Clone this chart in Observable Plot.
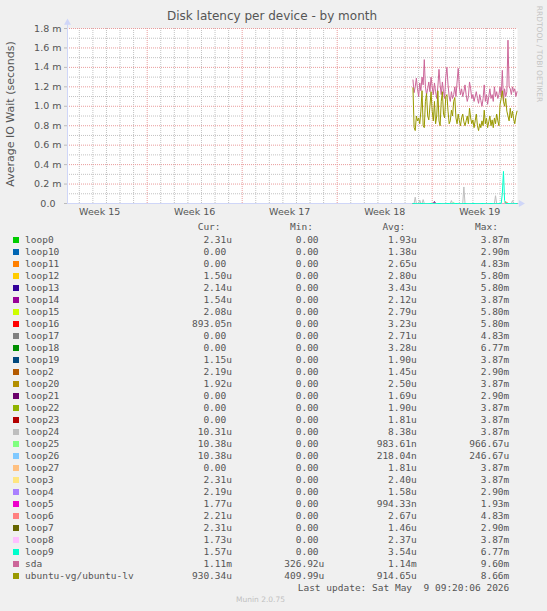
<!DOCTYPE html>
<html>
<head>
<meta charset="utf-8">
<script src="https://cdn.jsdelivr.net/npm/d3@7"></script>
<script src="https://cdn.jsdelivr.net/npm/@observablehq/plot@0.6"></script>
<style>
  html, body { margin: 0; padding: 0; }
  body { background: #F0F0F0; width: 547px; height: 611px; position: relative; overflow: hidden; }
  .abs { position: absolute; white-space: pre; }
  .mono { font-family: "DejaVu Sans Mono", monospace; font-size: 9.5px; line-height: 12px; color: #555; }
  .sw { position: absolute; width: 6px; height: 6px; }
</style>
</head>
<body>
<div id="chart" class="abs" style="left:0;top:0"></div>
<div class="abs" style="left:0;width:544px;top:9px;text-align:center;font-family:'DejaVu Sans';font-size:12px;color:#555">Disk latency per device - by month</div>
<div class="abs" style="left:10px;top:114px;transform:translate(-50%,-50%) rotate(-90deg);font-family:'DejaVu Sans';font-size:11px;color:#555">Average IO Wait (seconds)</div>
<div class="abs" style="left:538.5px;top:53.5px;transform:translate(-50%,-50%) rotate(90deg);font-family:'DejaVu Sans';font-size:7.5px;color:#c4c4c4">RRDTOOL / TOBI OETIKER</div>
<div id="legend"></div>
<script>
// ---- data ----
const weekNumbers = [15, 16, 17, 18, 19];
const weekLabels = ["Week 15", "Week 16", "Week 17", "Week 18", "Week 19"];
const yTicksMs = [0, 0.2, 0.4, 0.6, 0.8, 1.0, 1.2, 1.4, 1.6, 1.8];

// 2-hour samples from 2026-05-02 14:00, in milliseconds of wait
const sdaMs = [
  1.27, 1.14, 1.20, 1.29, 1.18, 1.10, 1.24, 1.16, 1.30, 1.22,
  1.48, 1.20, 1.12, 1.18, 1.25, 1.15, 1.30, 1.20, 1.12, 1.24,
  1.15, 1.08, 1.20, 1.38, 1.22, 1.12, 1.25, 1.15, 1.08, 1.30,
  1.40, 1.22, 1.10, 1.05, 1.15, 1.08, 1.12, 1.20, 1.10, 1.25,
  1.39, 1.20, 1.12, 1.18, 1.10, 1.15, 1.22, 1.12, 1.05, 1.10,
  1.25, 1.18, 1.08, 1.12, 1.05, 1.10, 1.15, 1.08, 1.03, 1.12,
  1.06, 1.00, 1.08, 1.22, 1.05, 1.12, 1.02, 1.10, 1.18, 1.08,
  1.12, 1.05, 1.20, 1.10, 1.15, 1.08, 1.12, 1.20, 1.10, 1.37,
  1.05, 1.18, 1.10, 1.15, 1.68, 1.20, 1.18, 1.12, 1.20, 1.15,
  1.18, 1.10, 1.15
];
const lvMs = [
  1.19, 0.78, 0.75, 0.90, 0.85, 0.88, 0.82, 0.95, 1.16, 0.80,
  0.78, 1.05, 1.13, 0.90, 0.86, 1.00, 1.15, 0.95, 0.85, 1.05,
  0.82, 0.90, 1.16, 0.85, 0.80, 1.05, 1.15, 0.92, 0.88, 1.10,
  1.12, 0.95, 0.82, 0.85, 0.96, 0.90, 1.05, 1.09, 0.88, 0.82,
  0.92, 0.85, 0.80, 0.88, 0.92, 0.84, 0.80, 0.85, 0.90, 0.82,
  0.98, 0.88, 0.82, 0.86, 0.78, 0.85, 0.92, 0.80, 0.75, 0.82,
  0.78, 0.85, 0.80, 0.96, 0.82, 0.88, 0.78, 0.84, 0.90, 0.80,
  0.86, 0.78, 0.88, 0.82, 0.92, 0.85, 0.80, 1.02, 1.08, 1.16,
  1.05, 1.00, 1.08, 0.95, 0.90, 0.85, 0.98, 0.88, 0.95, 0.87,
  0.82, 0.90, 0.95
];
// small non-zero samples of the loop devices (all other samples are 0)
const spikeDevice = ["loop24","loop24","loop24","loop24","loop24","loop24","loop24","loop9","loop9","loop9","loop21","loop11","loop25","loop6"];
const spikeIndex  = [2, 6, 9, 34, 45, 73, 88, 79, 80, 81, 19, 82, 36, 83];
const spikeMs     = [0.065, 0.035, 0.04, 0.03, 0.17, 0.08, 0.03, 0.10, 0.33, 0.03, 0.02, 0.02, 0.01, 0.015];

// legend
const names = ["loop0","loop10","loop11","loop12","loop13","loop14","loop15","loop16","loop17","loop18","loop19","loop2","loop20","loop21","loop22","loop23","loop24","loop25","loop26","loop27","loop3","loop4","loop5","loop6","loop7","loop8","loop9","sda","ubuntu-vg/ubuntu-lv"];
const colors = ["#00CC00","#0066B3","#FF8000","#FFCC00","#330099","#990099","#CCFF00","#FF0000","#808080","#008F00","#00487D","#B35A00","#B38F00","#6B006B","#8FB300","#B30000","#BEBEBE","#80FF80","#80C9FF","#FFC080","#FFE680","#AA80FF","#EE00CC","#FF8080","#666600","#FFBFFF","#00FFCC","#CC6699","#999900"];
const curVals = ["2.31u","0.00","0.00","1.50u","2.14u","1.54u","2.08u","893.05n","0.00","0.00","1.15u","2.19u","1.92u","0.00","0.00","0.00","10.31u","10.38u","10.38u","0.00","2.31u","2.19u","1.77u","2.21u","2.31u","1.73u","1.57u","1.11m","930.34u"];
const minVals = ["0.00","0.00","0.00","0.00","0.00","0.00","0.00","0.00","0.00","0.00","0.00","0.00","0.00","0.00","0.00","0.00","0.00","0.00","0.00","0.00","0.00","0.00","0.00","0.00","0.00","0.00","0.00","326.92u","409.99u"];
const avgVals = ["1.93u","1.38u","2.65u","2.80u","3.43u","2.12u","2.79u","3.23u","2.71u","3.28u","1.90u","1.45u","2.50u","1.69u","1.90u","1.81u","8.38u","983.61n","218.04n","1.81u","2.40u","1.58u","994.33n","2.67u","1.46u","2.37u","3.54u","1.14m","914.65u"];
const maxVals = ["3.87m","2.90m","4.83m","5.80m","5.80m","3.87m","5.80m","5.80m","4.83m","6.77m","3.87m","2.90m","3.87m","2.90m","3.87m","3.87m","3.87m","966.67u","246.67u","3.87m","3.87m","2.90m","1.93m","4.83m","2.90m","3.87m","6.77m","9.60m","8.66m"];
const lastUpdate = "Last update: Sat May  9 09:20:06 2026";
const munin = "Munin 2.0.75";

// ---- build ----
const HOUR = 3600000, DAY = 24 * HOUR;
const t0 = Date.UTC(2026, 4, 2, 14, 0);
const times = sdaMs.map((_, i) => new Date(t0 + i * 2 * HOUR));
const xStart = new Date(Date.UTC(2026, 3, 7, 3, 7));
const xEnd = new Date(Date.UTC(2026, 4, 10, 6, 50));
// Thursday noon of ISO week w of 2026 (Jan 1 2026 is a Thursday)
const weekMid = weekNumbers.map(w => new Date(Date.UTC(2026, 0, 1, 12) + (w - 1) * 7 * DAY));
const days = d3.utcDay.range(d3.utcDay.ceil(xStart), xEnd);
const mondays = d3.utcMonday.range(xStart, xEnd);
const minorY = d3.range(1, 18, 2).map(k => k * 1e-4);
const majorY = yTicksMs.slice(1).map(v => v * 1e-3);

function seriesRows(name) {
  const vals = times.map(() => 0);
  spikeDevice.forEach((d, k) => { if (d === name) vals[spikeIndex[k]] = spikeMs[k]; });
  if (name === "sda") return times.map((t, i) => ({t, v: sdaMs[i] * 1e-3}));
  if (name === "ubuntu-vg/ubuntu-lv") return times.map((t, i) => ({t, v: lvMs[i] * 1e-3}));
  return times.map((t, i) => ({t, v: vals[i] * 1e-3}));
}

const gridGrey = "#c2c2c2", gridRed = "#e99c9c", axisCol = "#CFD6F8";
const marks = [
  Plot.frame({fill: "white", stroke: null}),
  Plot.ruleY(minorY, {stroke: gridGrey, strokeDasharray: "1,1"}),
  Plot.ruleX(days.filter(d => d.getUTCDay() !== 1), {stroke: gridGrey, strokeDasharray: "1,1"}),
  Plot.ruleY(majorY, {stroke: gridRed, strokeDasharray: "1,1"}),
  Plot.ruleX(mondays, {stroke: gridRed, strokeDasharray: "1,1"}),
  Plot.ruleX([xStart], {y1: 0, y2: 1.86e-3, stroke: axisCol}),
  Plot.ruleY([0], {x1: xStart, x2: new Date(+xEnd + 0.2 * DAY), stroke: axisCol}),
  Plot.dot([0], {x: () => xStart, y: () => 1.86e-3, symbol: "triangle", r: 2.6, fill: axisCol, stroke: null}),
  Plot.dot([0], {x: () => new Date(+xEnd + 0.25 * DAY), y: () => 0, symbol: "triangle", rotate: 90, r: 2.6, fill: axisCol, stroke: null})
];
names.forEach((n, i) => {
  marks.push(Plot.line(seriesRows(n), {x: "t", y: "v", stroke: colors[i], strokeWidth: 1}));
});
marks.push(
  Plot.axisY({ticks: yTicksMs.map(v => v * 1e-3), tickFormat: (v) => v === 0 ? "0.0\u00a0\u00a0" : (v * 1e3).toFixed(1) + " m",
    tickSize: 3, tickPadding: 3, label: null, stroke: "#bbb", fill: "#555"}),
  Plot.axisX({ticks: weekMid, tickFormat: (d, i) => weekLabels[i], tickSize: 0, tickPadding: 5, label: null, fill: "#555"})
);

const chart = Plot.plot({
  width: 547, height: 222,
  marginLeft: 67, marginRight: 30, marginTop: 28, marginBottom: 19,
  style: {background: "transparent", fontFamily: "DejaVu Sans", fontSize: "9.5px", color: "#555"},
  x: {type: "utc", domain: [xStart, xEnd]},
  y: {type: "linear", domain: [0, 1.8e-3]},
  marks
});
document.getElementById("chart").appendChild(chart);

// ---- legend ----
const leg = document.getElementById("legend");
function put(text, rightEdge, centerY) {
  const s = document.createElement("div");
  s.className = "abs mono";
  s.textContent = text;
  s.style.right = (547 - rightEdge) + "px";
  s.style.top = (centerY - 6) + "px";
  leg.appendChild(s);
}
const pad = v => /[0-9]$/.test(v) ? v + " " : v;
const colEdges = [232, 324.3, 416.7, 509.3];
["Cur:", "Min:", "Avg:", "Max:"].forEach((h, j) => put(h + "  ", colEdges[j], 227.3));
names.forEach((n, i) => {
  const cy = 240 + 12 * i;
  const sw = document.createElement("div");
  sw.className = "sw";
  sw.style.left = "13px"; sw.style.top = (cy - 3) + "px"; sw.style.background = colors[i];
  leg.appendChild(sw);
  const lab = document.createElement("div");
  lab.className = "abs mono";
  lab.textContent = n;
  lab.style.left = "25px"; lab.style.top = (cy - 6) + "px";
  leg.appendChild(lab);
  [curVals[i], minVals[i], avgVals[i], maxVals[i]].forEach((v, j) => put(pad(v), colEdges[j], cy));
});
put(lastUpdate, 509.3, 587.7);
const m = document.createElement("div");
m.className = "abs";
m.textContent = munin;
m.style.cssText += "left:0;width:521px;text-align:center;top:595px;font-family:'DejaVu Sans';font-size:7.5px;color:#c0c0c0";
leg.appendChild(m);
</script>
</body>
</html>
